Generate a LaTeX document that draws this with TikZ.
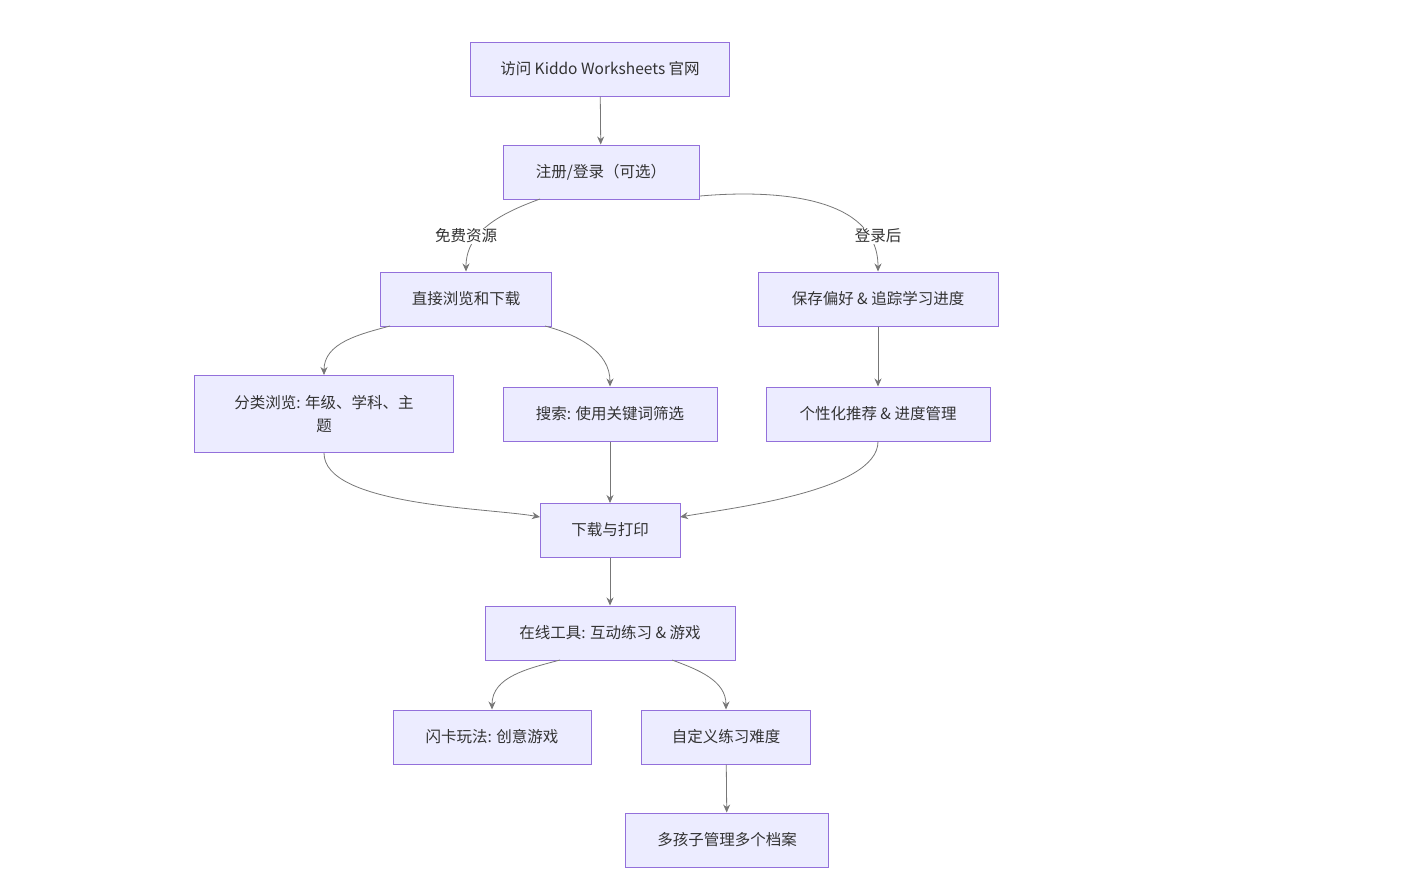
\documentclass[tikz,border=0pt]{standalone}
\usepackage{fontspec}
\setmainfont{Noto Sans CJK SC}
\usetikzlibrary{arrows.meta}
\definecolor{nfill}{HTML}{ECECFF}
\definecolor{nbord}{HTML}{9370DB}
\definecolor{edge}{HTML}{555555}
\begin{document}
\begin{tikzpicture}[x=1pt,y=-1pt,
  box/.style={draw=nbord,fill=nfill,line width=1pt,minimum height=54pt,inner sep=0pt,align=center,font=\fontsize{15.5}{23}\selectfont,text=black!80},
  ar/.style={draw=edge!80,line width=0.8pt,-{Stealth[length=8pt,width=7pt]}},
  lab/.style={fill=white,inner sep=1pt,font=\fontsize{15.5}{18}\selectfont,text=black!80}]
\useasboundingbox (0,0) rectangle (1404,892);
\node[box,minimum width=259pt] (a) at (600,69) {访问 Kiddo Worksheets 官网};
\node[box,minimum width=196pt] (b) at (601,172) {注册/登录（可选）};
\node[box,minimum width=171pt] (c) at (466,299) {直接浏览和下载};
\node[box,minimum width=240pt] (d) at (878,299) {保存偏好 \& 追踪学习进度};
\node[box,minimum width=259pt,minimum height=77pt] (e) at (324,414) {分类浏览: 年级、学科、主\\题};
\node[box,minimum width=214pt] (f) at (610,414) {搜索: 使用关键词筛选};
\node[box,minimum width=224pt] (g) at (878,414) {个性化推荐 \& 进度管理};
\node[box,minimum width=140pt] (h) at (610,530) {下载与打印};
\node[box,minimum width=250pt] (i) at (610,633) {在线工具: 互动练习 \& 游戏};
\node[box,minimum width=198pt] (j) at (492,737) {闪卡玩法: 创意游戏};
\node[box,minimum width=169pt] (k) at (726,737) {自定义练习难度};
\node[box,minimum width=203pt] (l) at (727,840) {多孩子管理多个档案};
\draw[ar] (a) -- (b);
\draw[ar] (540,199) to[out=200,in=90] (c.north);
\draw[ar] (700,196) to[out=5,in=90] (d.north);
\node[lab] at (466,236) {免费资源};
\node[lab] at (878,236) {登录后};
\draw[ar] (390,326) to[out=195,in=90] (e.north);
\draw[ar] (545,326) to[out=-15,in=90] (f.north);
\draw[ar] (d) -- (g);
\draw[ar] (e.south) to[out=-90,in=170,looseness=0.6] (540,517);
\draw[ar] (f) -- (610,503);
\draw[ar] (g.south) to[out=-90,in=10,looseness=0.6] (680,517);
\draw[ar] (h) -- (i);
\draw[ar] (560,660) to[out=195,in=90] (j.north);
\draw[ar] (672,660) to[out=-20,in=90] (k.north);
\draw[ar] (k) -- (l);
\end{tikzpicture}
\end{document}
